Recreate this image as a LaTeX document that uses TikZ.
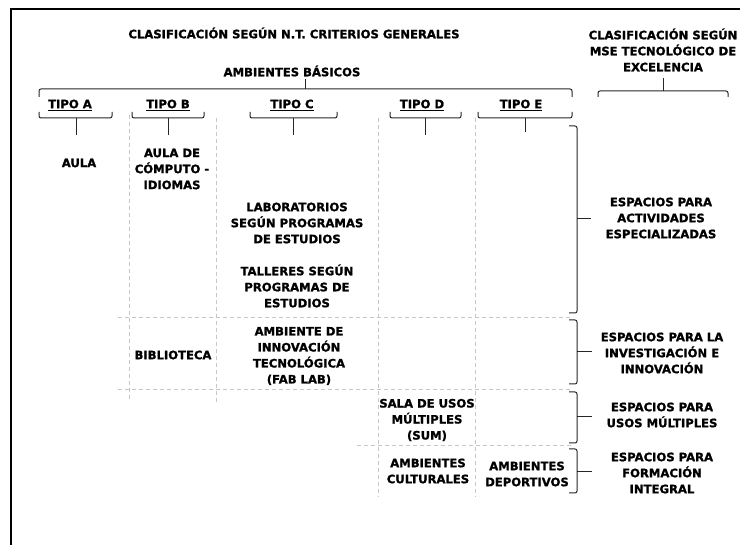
\documentclass[tikz,border=0pt]{standalone}
\usepackage{fontspec}
\setmainfont{DejaVu Sans}[BoldFeatures={FakeBold=1.2}]
\begin{document}
\begin{tikzpicture}[x=1pt,y=-1pt,
 lbl/.style={font=\bfseries\fontsize{11.6}{16}\selectfont, align=center, inner sep=0pt, text=black},
 tipo/.style={lbl},
 br/.style={line width=1pt, rounded corners=2pt, draw=black!85},
 gridline/.style={draw=black!22, line width=0.8pt, dash pattern=on 4pt off 3pt}]
\useasboundingbox (0,0) rectangle (740,545);
% frame
\draw[line width=2.8pt] (11,545) -- (11,9) -- (740,9);
% grid (dashed)
\draw[gridline] (129,115) -- (129,402);
\draw[gridline] (216,118) -- (216,402);
\draw[gridline] (378,118) -- (378,497);
\draw[gridline] (475,118) -- (475,497);
\draw[gridline] (118,317) -- (572,317);
\draw[gridline] (118,389) -- (572,389);
\draw[gridline] (357,445) -- (572,445);
% headings
\node[lbl] (t1) at (294,33) {CLASIFICACIÓN SEGÚN N.T. CRITERIOS GENERALES};
\node[lbl] (t2) at (292,71) {AMBIENTES BÁSICOS};
\node[lbl] (tr) at (663,50) {CLASIFICACIÓN SEGÚN\\MSE TECNOLÓGICO DE\\EXCELENCIA};
% big braces
\draw[br] (39,97) -- (39,89) -- (572,89) -- (572,97);
\draw[br] (305,89) -- (305,79);
\draw[br] (598,97) -- (598,91) -- (728,91) -- (728,97);
\draw[br] (663,91) -- (663,78);
% tipos
\node[tipo] (ta) at (70,105) {\underline{TIPO A}};
\node[tipo] (tb) at (168,105) {\underline{TIPO B}};
\node[tipo] (tc) at (292,105) {\underline{TIPO C}};
\node[tipo] (td) at (422,105) {\underline{TIPO D}};
\node[tipo] (te) at (521,105) {\underline{TIPO E}};
\draw[br] (39,112) -- (39,118) -- (112,118) -- (112,112);
\draw[br] (76,118) -- (76,135);
\draw[br] (132,112) -- (132,118) -- (204,118) -- (204,112);
\draw[br] (168,118) -- (168,135);
\draw[br] (250,112) -- (250,118) -- (337,118) -- (337,112);
\draw[br] (293,118) -- (293,135);
\draw[br] (390,112) -- (390,118) -- (461,118) -- (461,112);
\draw[br] (425,118) -- (425,135);
\draw[br] (478,112) -- (478,118) -- (572,118) -- (572,112);
\draw[br] (525,118) -- (525,132);
% contents
\node[lbl] (aula) at (79,163) {AULA};
\node[lbl] (comp) at (172,169) {AULA DE\\CÓMPUTO -\\IDIOMAS};
\node[lbl] (lab) at (297,223) {LABORATORIOS\\SEGÚN PROGRAMAS\\DE ESTUDIOS};
\node[lbl] (tall) at (297,286) {TALLERES SEGÚN\\PROGRAMAS DE\\ESTUDIOS};
\node[lbl] (bib) at (173,355) {BIBLIOTECA};
\node[lbl] (fab) at (299,356) {AMBIENTE DE\\INNOVACIÓN\\TECNOLÓGICA\\(FAB LAB)};
\node[lbl] (sum) at (427,420) {SALA DE USOS\\MÚLTIPLES\\(SUM)};
\node[lbl] (cult) at (428,471) {AMBIENTES\\CULTURALES};
\node[lbl] (dep) at (527,474) {AMBIENTES\\DEPORTIVOS};
% right braces
\draw[br] (569,126) -- (577,126) -- (577,313) -- (569,313);
\draw[br] (577,219) -- (591,219);
\draw[br] (569,320) -- (577,320) -- (577,384) -- (569,384);
\draw[br] (577,352) -- (592,352);
\draw[br] (569,392) -- (577,392) -- (577,443) -- (569,443);
\draw[br] (577,417) -- (592,417);
\draw[br] (569,449) -- (577,449) -- (577,493) -- (569,493);
\draw[br] (577,472) -- (592,472);
% right labels
\node[lbl] (e1) at (661,218) {ESPACIOS PARA\\ACTIVIDADES\\ESPECIALIZADAS};
\node[lbl] (e2) at (662,353) {ESPACIOS PARA LA\\INVESTIGACIÓN E\\INNOVACIÓN};
\node[lbl] (e3) at (662,415) {ESPACIOS PARA\\USOS MÚLTIPLES};
\node[lbl] (e4) at (662,473) {ESPACIOS PARA\\FORMACIÓN\\INTEGRAL};
\end{tikzpicture}
\end{document}
